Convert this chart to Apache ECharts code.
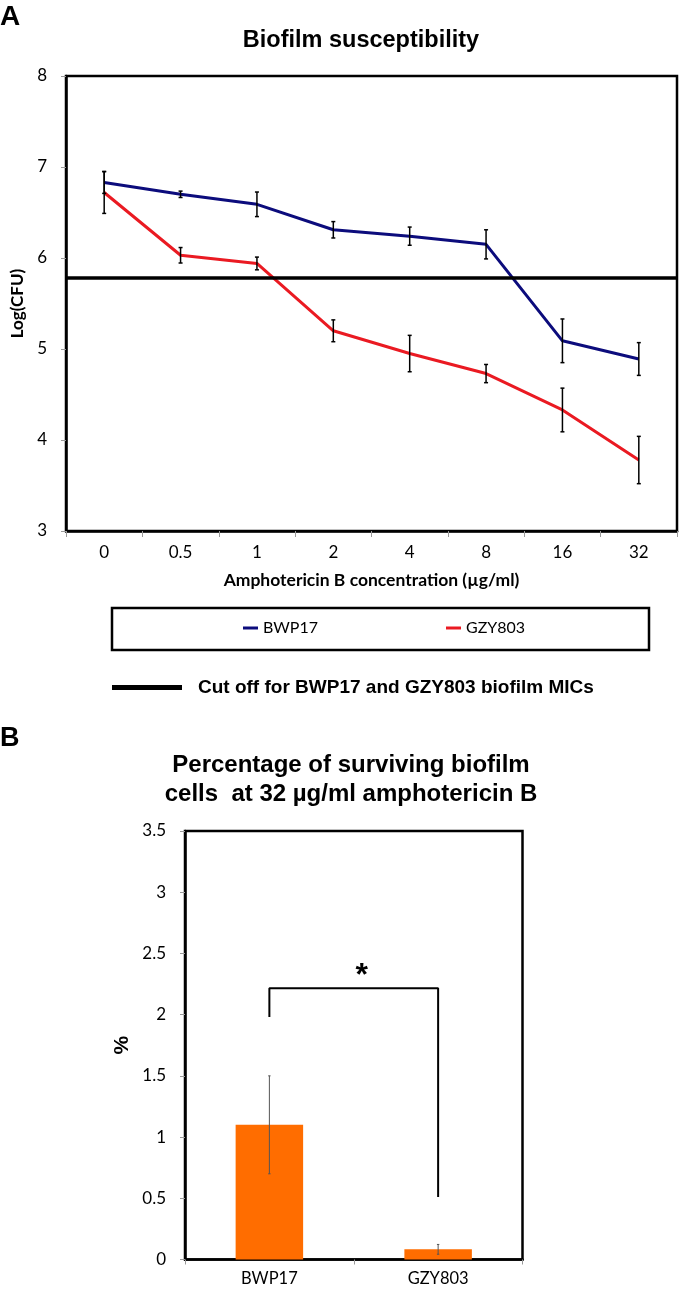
<!DOCTYPE html>
<html>
<head>
<meta charset="utf-8">
<script src="https://cdn.jsdelivr.net/npm/echarts@6/dist/echarts.min.js"></script>
<style>
html,body{margin:0;padding:0;background:#fff;}
#chart{width:680px;height:1291px;}
</style>
</head>
<body>
<div id="chart"></div>
<script>
// ---- Panel A data ----
const concentrations = ['0', '0.5', '1', '2', '4', '8', '16', '32'];
const bwp17Mean = [6.83, 6.70, 6.59, 6.31, 6.24, 6.15, 5.09, 4.89];
const bwp17Err  = [0.12, 0.035, 0.135, 0.09, 0.10, 0.16, 0.24, 0.18];
const gzy803Mean = [6.72, 6.03, 5.94, 5.20, 4.95, 4.73, 4.33, 3.78];
const gzy803Err  = [0.23, 0.085, 0.07, 0.12, 0.20, 0.10, 0.24, 0.26];
const cutoffValue = 5.78;
const yTicksA = [3, 8, 1]; // min, max, interval

// ---- Panel B data ----
const strains = ['BWP17', 'GZY803'];
const survivalMean = [1.10, 0.083];
const survivalErr  = [0.40, 0.04];
const bracketValues = [1.98, 2.215, 2.215, 0.51]; // left leg low, top, top, right leg low
const starValue = '*';
const yTicksB = [0, 3.5, 0.5];

const seriesNames = ['BWP17', 'GZY803'];
const cutoffName = 'Cut off for BWP17 and GZY803 biofilm MICs';

const BLUE = '#0c0c7c';
const RED = '#ea1a22';
const ORANGE = '#ff6d00';
const TICKFONT = 'Lato, "Open Sans", sans-serif';
const TITLEFONT = '"Liberation Sans", Arial, sans-serif';

function errData(mean, err) {
  return mean.map((m, i) => [i, m - err[i], m + err[i]]);
}
function errRender(capHalf, lw, color) {
  return function (params, api) {
    const x = api.value(0);
    const lo = api.coord([x, api.value(1)]);
    const hi = api.coord([x, api.value(2)]);
    const st = { stroke: color, lineWidth: lw };
    return {
      type: 'group',
      children: [
        { type: 'line', shape: { x1: lo[0], y1: lo[1], x2: hi[0], y2: hi[1] }, style: st },
        { type: 'line', shape: { x1: lo[0] - capHalf, y1: lo[1], x2: lo[0] + capHalf, y2: lo[1] }, style: st },
        { type: 'line', shape: { x1: hi[0] - capHalf, y1: hi[1], x2: hi[0] + capHalf, y2: hi[1] }, style: st }
      ]
    };
  };
}

const chart = echarts.init(document.getElementById('chart'), null, { renderer: 'canvas' });

const bracketData = [[0, bracketValues[0]], [0, bracketValues[1]], [1, bracketValues[2]], [1, bracketValues[3]]];

const option = {
  backgroundColor: '#fff',
  animation: false,
  graphic: [
    { type: 'text', x: 0, y: 3, style: { text: 'A', font: 'bold 28px ' + TITLEFONT, fill: '#000' } },
    { type: 'text', x: 361, y: 41, style: { text: 'Biofilm susceptibility', font: 'bold 23.5px ' + TITLEFONT, fill: '#000', textAlign: 'center', textVerticalAlign: 'middle' } },
    { type: 'rect', shape: { x: 112, y: 608, width: 537, height: 42 }, style: { fill: 'none', stroke: '#000', lineWidth: 2.5 } },
    { type: 'text', x: 0, y: 725, style: { text: 'B', font: 'bold 27px ' + TITLEFONT, fill: '#000' } },
    { type: 'text', x: 351, y: 765, style: { text: 'Percentage of surviving biofilm', font: 'bold 24px ' + TITLEFONT, fill: '#000', textAlign: 'center', textVerticalAlign: 'middle' } },
    { type: 'text', x: 351, y: 794, style: { text: 'cells  at 32 \u00b5g/ml amphotericin B', font: 'bold 24px ' + TITLEFONT, fill: '#000', textAlign: 'center', textVerticalAlign: 'middle' } }
  ],
  legend: [
    {
      data: seriesNames,
      left: 243, top: 620, padding: 0,
      icon: 'rect', itemWidth: 15, itemHeight: 3, itemGap: 128,
      selectedMode: false,
      textStyle: { fontFamily: TICKFONT, fontSize: 16, color: '#000' }
    },
    {
      data: [cutoffName],
      left: 112, top: 678, padding: 0,
      icon: 'rect', itemWidth: 70, itemHeight: 5,
      selectedMode: false,
      textStyle: { fontFamily: TITLEFONT, fontWeight: 'bold', fontSize: 19, color: '#000', padding: [0, 0, 0, 11] }
    }
  ],
  grid: [
    { left: 66, top: 76, width: 611, height: 455, show: true, borderColor: '#000', borderWidth: 2.5, backgroundColor: '#fff' },
    { left: 185, top: 831, width: 337.5, height: 428.5, show: true, borderColor: '#000', borderWidth: 2.5, backgroundColor: '#fff' }
  ],
  xAxis: [
    {
      type: 'category', gridIndex: 0, data: concentrations, boundaryGap: true,
      axisLine: { show: true, lineStyle: { color: '#000', width: 2.5 } },
      axisTick: { show: true, interval: 0, alignWithLabel: false, length: 6, lineStyle: { color: '#999', width: 1 } },
      axisLabel: { interval: 0, margin: 13, fontFamily: TICKFONT, fontSize: 17, color: '#000' },
      name: 'Amphotericin B concentration (\u00b5g/ml)', nameLocation: 'middle', nameGap: 40,
      nameTextStyle: { fontFamily: TICKFONT, fontWeight: 'bold', fontSize: 17.5, color: '#000' }
    },
    {
      type: 'category', gridIndex: 1, data: strains, boundaryGap: true,
      axisLine: { show: true, lineStyle: { color: '#000', width: 2.5 } },
      axisTick: { show: true, interval: 0, alignWithLabel: false, length: 5, lineStyle: { color: '#999', width: 1 } },
      axisLabel: { interval: 0, margin: 11, fontFamily: TICKFONT, fontSize: 16.5, color: '#000' }
    }
  ],
  yAxis: [
    {
      type: 'value', gridIndex: 0, min: yTicksA[0], max: yTicksA[1], interval: yTicksA[2],
      axisLine: { show: true, lineStyle: { color: '#000', width: 2.5 } },
      axisTick: { show: true, length: 5, lineStyle: { color: '#999', width: 1 } },
      splitLine: { show: false },
      axisLabel: { margin: 19, fontFamily: TICKFONT, fontSize: 17, color: '#000' },
      name: 'Log(CFU)', nameLocation: 'middle', nameGap: 40,
      nameTextStyle: { fontFamily: TICKFONT, fontWeight: 'bold', fontSize: 17, color: '#000' }
    },
    {
      type: 'value', gridIndex: 1, min: yTicksB[0], max: yTicksB[1], interval: yTicksB[2],
      axisLine: { show: true, lineStyle: { color: '#000', width: 2.5 } },
      axisTick: { show: true, length: 5, lineStyle: { color: '#999', width: 1 } },
      splitLine: { show: false },
      axisLabel: { margin: 19, fontFamily: TICKFONT, fontSize: 17, color: '#000' },
      name: '%', nameLocation: 'middle', nameGap: 52,
      nameTextStyle: { fontFamily: TITLEFONT, fontWeight: 'bold', fontSize: 21, color: '#000' }
    }
  ],
  series: [
    {
      name: seriesNames[0], type: 'line', xAxisIndex: 0, yAxisIndex: 0,
      data: bwp17Mean, symbol: 'none', color: BLUE,
      lineStyle: { color: BLUE, width: 3 }, z: 3
    },
    {
      name: seriesNames[1], type: 'line', xAxisIndex: 0, yAxisIndex: 0,
      data: gzy803Mean, symbol: 'none', color: RED,
      lineStyle: { color: RED, width: 3 }, z: 3
    },
    {
      name: 'bwpErr', type: 'custom', xAxisIndex: 0, yAxisIndex: 0,
      data: errData(bwp17Mean, bwp17Err), encode: { x: 0, y: [1, 2] },
      renderItem: errRender(2, 1.5, '#000'), z: 5, silent: true
    },
    {
      name: 'gzyErr', type: 'custom', xAxisIndex: 0, yAxisIndex: 0,
      data: errData(gzy803Mean, gzy803Err), encode: { x: 0, y: [1, 2] },
      renderItem: errRender(2, 1.5, '#000'), z: 5, silent: true
    },
    {
      name: cutoffName, type: 'line', xAxisIndex: 0, yAxisIndex: 0,
      data: [], color: '#000', symbol: 'none',
      markLine: {
        silent: true, symbol: 'none', label: { show: false },
        lineStyle: { color: '#000', width: 3.5, type: 'solid' },
        data: [{ yAxis: cutoffValue }]
      },
      z: 4
    },
    {
      name: 'survival', type: 'bar', xAxisIndex: 1, yAxisIndex: 1,
      data: survivalMean, barWidth: '40%', itemStyle: { color: ORANGE }
    },
    {
      name: 'survivalErr', type: 'custom', xAxisIndex: 1, yAxisIndex: 1,
      data: errData(survivalMean, survivalErr), encode: { x: 0, y: [1, 2] },
      renderItem: errRender(1.2, 1, '#555'), z: 5, silent: true
    },
    {
      name: 'bracket', type: 'line', xAxisIndex: 1, yAxisIndex: 1,
      data: bracketData, symbol: 'none', color: '#000',
      lineStyle: { color: '#000', width: 2 }, silent: true,
      markLine: {
        silent: true, symbol: 'none',
        lineStyle: { color: 'rgba(0,0,0,0)', width: 1, type: 'solid' },
        label: { show: true, position: 'middle', formatter: starValue, distance: 0, offset: [8, 4], fontFamily: TITLEFONT, fontWeight: 'bold', fontSize: 32, color: '#000' },
        data: [[{ coord: [0, bracketValues[1]] }, { coord: [1, bracketValues[2]] }]]
      }
    }
  ]
};
chart.setOption(option);
</script>
</body>
</html>
